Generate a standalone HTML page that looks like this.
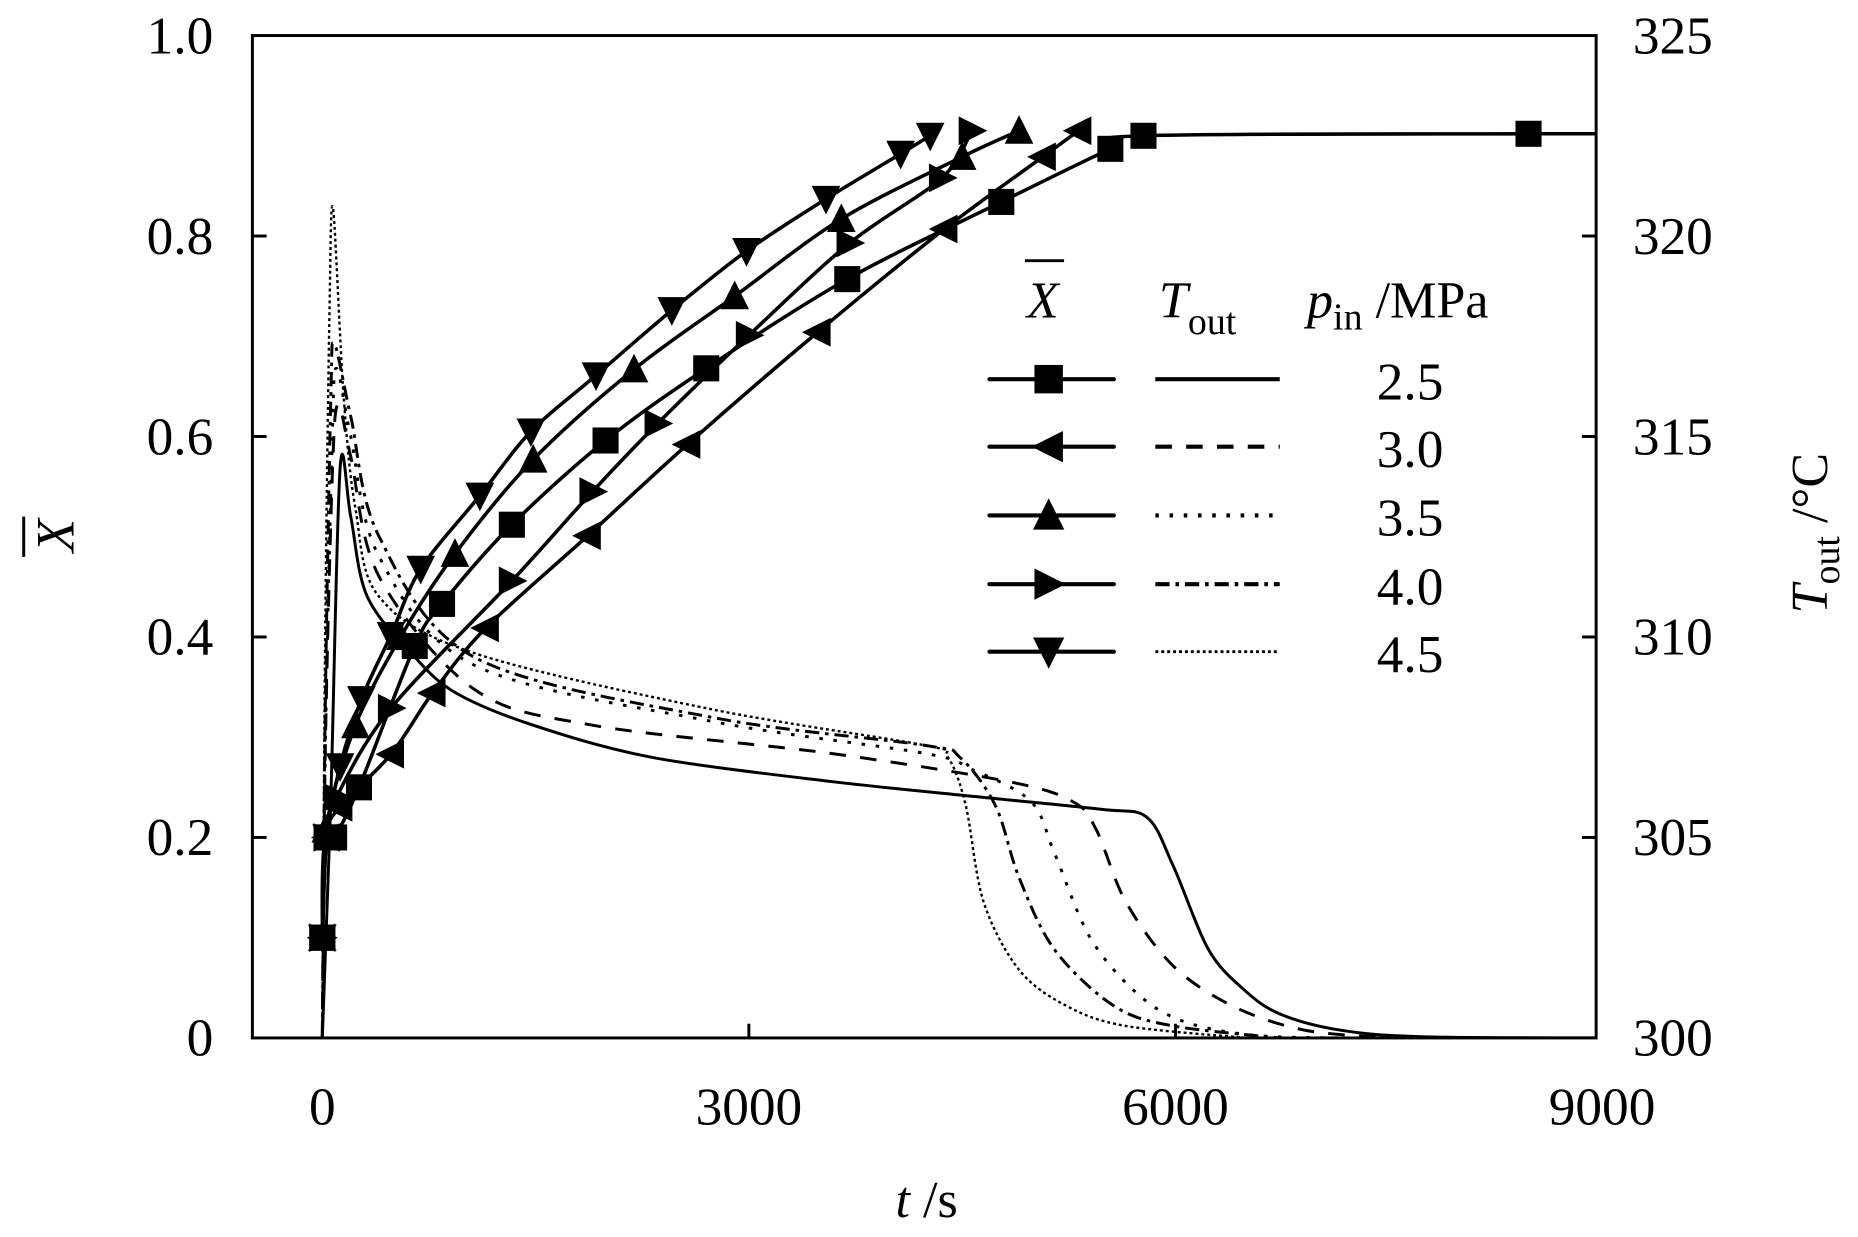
<!DOCTYPE html>
<html><head><meta charset="utf-8"><style>
html,body{margin:0;padding:0;background:#fff}
svg{display:block}
text{font-family:"Liberation Serif",serif;fill:#000}
</style></head><body>
<svg id="chart" width="1858" height="1237" viewBox="0 0 1568 1044" preserveAspectRatio="none" xmlns="http://www.w3.org/2000/svg">
<g id="marks"></g>
<rect x="213" y="30" width="1134" height="846" fill="none" stroke="#000" stroke-width="2.5"/>
<g id="axes"></g>
<text transform="translate(62,452) rotate(-90)" font-size="46" font-style="italic" text-anchor="middle">X</text>
<line x1="20" y1="436" x2="20" y2="470" stroke="#000" stroke-width="2.5"/>
<text transform="translate(1542,450) rotate(-90)" font-size="44" text-anchor="middle"><tspan font-style="italic">T</tspan><tspan font-size="32" dy="10">out</tspan><tspan dy="-10"> /°C</tspan></text>
<text x="782" y="1027" font-size="44" text-anchor="middle"><tspan font-style="italic">t</tspan> /s</text>
<g id="legend">
<text x="880" y="268" font-size="44" font-style="italic" text-anchor="middle">X</text>
<line x1="865" y1="220" x2="898" y2="220" stroke="#000" stroke-width="2.5"/>
<text x="978" y="268" font-size="44"><tspan font-style="italic">T</tspan><tspan font-size="32" dy="14">out</tspan></text>
<text x="1103" y="268" font-size="44"><tspan font-style="italic">p</tspan><tspan font-size="32" dy="10">in</tspan><tspan dy="-10"> /MPa</tspan></text>
</g>
</svg>
<script>
const pressures = ["2.5","3.0","3.5","4.0","4.5"];
const markerTypes = ["square","left","up","right","down"];
const dashStyles = ["none","14,12","3,9","12,5,3,5","2.5,2.5"];
// Conversion X̄ series: time (s) and values
const sqT = [0,30,83,258,650,842,1333,1992,2700,3692,4775,5542,5775,8483,9200];
const sqX = [0.10,0.20,0.20,0.25,0.391,0.433,0.512,0.596,0.668,0.757,0.834,0.887,0.90,0.902,0.902];
const ltT = [0,30,120,483,775,1150,1867,2567,3483,4375,5067,5317];
const ltX = [0.10,0.20,0.23,0.283,0.344,0.409,0.501,0.592,0.704,0.807,0.879,0.905];
const upT = [0,25,233,550,933,1483,2192,2900,3650,4500,4900];
const upX = [0.10,0.208,0.312,0.40,0.483,0.577,0.667,0.740,0.817,0.879,0.905];
const rtT = [0,30,100,483,1333,1900,2358,3000,3708,4358,4567];
const rtX = [0.10,0.20,0.24,0.329,0.456,0.545,0.613,0.701,0.793,0.858,0.905];
const dnT = [0,30,125,275,483,692,1108,1467,1925,2458,2983,3542,4067,4275];
const dnX = [0.10,0.20,0.271,0.338,0.402,0.468,0.541,0.605,0.661,0.726,0.785,0.837,0.882,0.90];
// Outlet temperature series (°C)
const tT1 = [0,0,60,125,200,317,650,942,1483,2317,3567,4650,5483,5800,5983,6233,6483,6733,7150,7733,9000];
const tV1 = [300,300,306,314.2,313,311.0,309.5,308.6,307.8,307.0,306.4,306.0,305.7,305.5,304.3,302.2,301.2,300.6,300.2,300.03,300];
const tT2 = [0,20,70,110,200,400,1067,1900,3567,4817,5275,5442,5650,5983,6400,6900,7500];
const tV2 = [300,307,314,315.8,314.5,311.5,308.7,307.8,307.1,306.4,305.9,305.2,303.4,301.8,300.8,300.2,300];
const tT3 = [0,20,70,100,200,400,1067,2733,4233,4567,4983,5150,5400,5733,6067,6567,7200];
const tV3 = [300,307,315,316.7,315,312,309.3,307.9,307.1,306.7,305.9,304.6,302.5,301.1,300.4,300.06,300];
const tT4 = [0,20,60,85,200,400,1067,2733,4233,4483,4733,4900,5150,5567,5983,6733];
const tV4 = [300,308,316,317.3,315.5,312.5,309.5,308.0,307.3,307.0,305.8,304.0,302.2,300.8,300.3,300];
const tT5 = [0,20,50,75,150,233,400,1067,2733,4233,4400,4525,4650,4900,5233,5650,6500];
const tV5 = [300,310,318,320.7,316,313.2,311,309.6,308.2,307.3,307.0,305.8,303.4,301.7,300.8,300.3,300];
const yTicks = [0,0.2,0.4,0.6,0.8,1.0];
const yTickLabels = ["0","0.2","0.4","0.6","0.8","1.0"];
const y2TickLabels = ["300","305","310","315","320","325"];
const xTicks = [0,3000,6000,9000];
const xTickLabels = ["0","3000","6000","9000"];

const NS="http://www.w3.org/2000/svg";
const X0=272, XS=360/3000, Y0=876, YS=846;
const xs=t=>X0+t*XS, ys=v=>Y0-v*YS, ts=T=>Y0-(T-300)/25*YS;
const marks=document.getElementById('marks'), axes=document.getElementById('axes'), legend=document.getElementById('legend');
function mk(tag,attrs,parent){const e=document.createElementNS(NS,tag);for(const k in attrs)e.setAttribute(k,attrs[k]);parent.appendChild(e);return e;}
function smooth(P){
  let d='M'+P[0][0]+','+P[0][1];
  for(let i=0;i<P.length-1;i++){
    const p0=P[Math.max(0,i-1)],p1=P[i],p2=P[i+1],p3=P[Math.min(P.length-1,i+2)];
    const k=0.16;
    const c1=[p1[0]+(p2[0]-p0[0])*k,p1[1]+(p2[1]-p0[1])*k];
    const c2=[p2[0]-(p3[0]-p1[0])*k,p2[1]-(p3[1]-p1[1])*k];
    d+=' C'+c1.join(',')+' '+c2.join(',')+' '+p2.join(',');
  }
  return d;
}
function marker(type,x,y,parent,s){
  s=s||11;let e;
  if(type==="square") e=mk('rect',{x:x-s,y:y-s,width:2*s,height:2*s,fill:'#000'},parent);
  else{let p;
    if(type==="up") p=[[x,y-s*1.2],[x-s*1.1,y+s],[x+s*1.1,y+s]];
    if(type==="down") p=[[x,y+s*1.2],[x-s*1.1,y-s],[x+s*1.1,y-s]];
    if(type==="left") p=[[x-s*1.2,y],[x+s,y-s*1.1],[x+s,y+s*1.1]];
    if(type==="right") p=[[x+s*1.2,y],[x-s,y-s*1.1],[x-s,y+s*1.1]];
    e=mk('polygon',{points:p.map(q=>q.join(',')).join(' '),fill:'#000'},parent);}
  return e;
}
const xT=[sqT,ltT,upT,rtT,dnT], xV=[sqX,ltX,upX,rtX,dnX];
const tTs=[tT1,tT2,tT3,tT4,tT5], tVs=[tV1,tV2,tV3,tV4,tV5];
const clip=mk('clipPath',{id:'pc'},mk('defs',{},marks));mk('rect',{x:213,y:30,width:1134,height:846},clip);
const g=mk('g',{'clip-path':'url(#pc)'},marks);
for(let i=0;i<5;i++){
  const P=tTs[i].map((t,j)=>[xs(t),ts(tVs[i][j])]);
  const l=mk('path',{d:smooth(P),fill:'none',stroke:'#000','stroke-width':i===4?2:2.5,'stroke-dasharray':dashStyles[i]},g);
  
  
}
for(let i=0;i<5;i++){
  const P=xT[i].map((t,j)=>[xs(t),ys(xV[i][j])]);
  const l=mk('path',{d:smooth(P),fill:'none',stroke:'#000','stroke-width':3},g);
  
  
  xT[i].forEach((t,j)=>{const m=marker(markerTypes[i],xs(t),ys(xV[i][j]),g);
    
    });
}
yTicks.forEach((v,i)=>{
  const y=ys(v);
  if(i>0&&i<5){mk('line',{x1:213,y1:y,x2:225,y2:y,stroke:'#000','stroke-width':2.5},axes);
  mk('line',{x1:1335,y1:y,x2:1347,y2:y,stroke:'#000','stroke-width':2.5},axes);}
  const a=mk('text',{x:180,y:y+15,'font-size':45,'text-anchor':'end'},axes);a.textContent=yTickLabels[i];
  
  
  const b=mk('text',{x:1378,y:y+15,'font-size':45},axes);b.textContent=y2TickLabels[i];
  
  
});
xTicks.forEach((t,i)=>{
  const x=xs(t);
  if(i===1||i===2) mk('line',{x1:x,y1:876,x2:x,y2:864,stroke:'#000','stroke-width':2.5},axes);
  const a=mk('text',{x:x,y:949,'font-size':45,'text-anchor':'middle'},axes);a.textContent=xTickLabels[i];
  
  
});
const rowsY=[320,377,435,493,550];
for(let i=0;i<5;i++){
  const y=rowsY[i];
  const a=mk('line',{x1:835,y1:y,x2:940,y2:y,stroke:'#000','stroke-width':3.5,'stroke-linecap':'round'},legend);
  
  
  marker(markerTypes[i],885,y,legend,12);
  const b=mk('line',{x1:975,y1:y,x2:1080,y2:y,stroke:'#000','stroke-width':i===4?2.5:3.5,'stroke-dasharray':dashStyles[i]},legend);
  
  
  const t=mk('text',{x:1190,y:y+17,'font-size':45,'text-anchor':'middle'},legend);t.textContent=pressures[i];
  
  
}
</script>
</body></html>
